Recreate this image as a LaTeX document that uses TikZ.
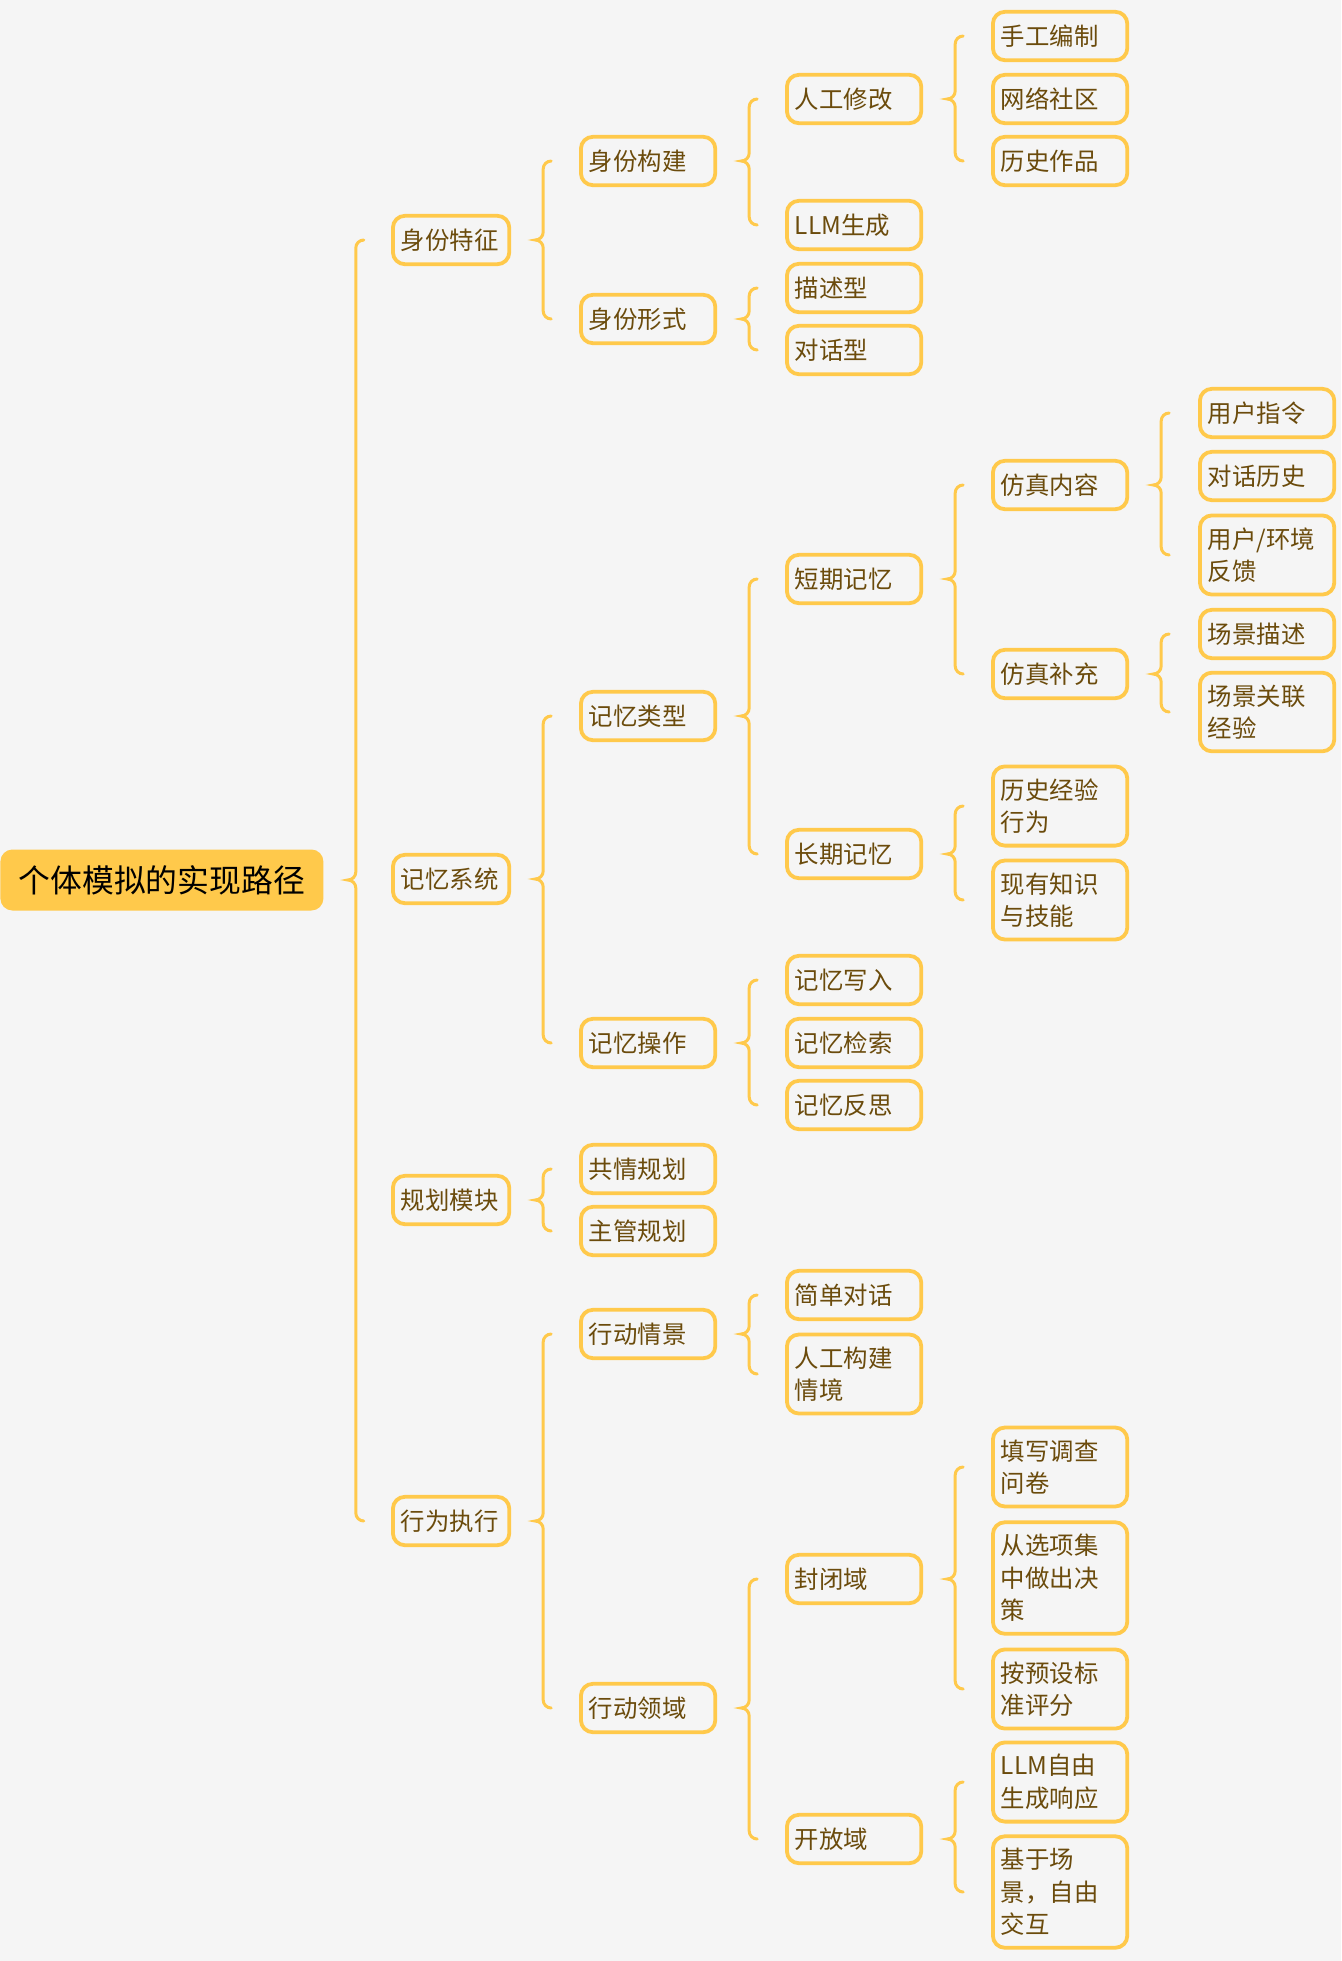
\documentclass[tikz,border=0pt]{standalone}
\usepackage{fontspec}
\setmainfont{Noto Sans CJK SC}
\usetikzlibrary{calc}
\definecolor{gold}{HTML}{FFC94B}
\definecolor{ink}{HTML}{6B4B0C}
\definecolor{bg}{HTML}{F5F5F5}
% brace from parent to its first and last child
\newcommand\brc[3]{%
  \draw[brace] let \p1=(#1.east), \p2=(#2.west), \p3=(#3.west) in
    (\x1+20pt,\y2) to[out=180,in=90] (\x1+16pt,\y2-4pt)
    -- (\x1+16pt,\y1+4pt) to[out=-90,in=0] (\x1+12pt,\y1)
    to[out=0,in=90] (\x1+16pt,\y1-4pt)
    -- (\x1+16pt,\y3+4pt) to[out=-90,in=180] (\x1+20pt,\y3);}

\begin{document}
\begin{tikzpicture}[x=0.5pt,y=-0.5pt,
    box/.style={draw=gold, line width=1.9pt, rounded corners=6pt, fill=bg, text=ink,
      anchor=west, align=left, inner xsep=4pt, inner ysep=6pt, minimum height=24.2pt,
      font=\fontsize{12.2}{16.25}\selectfont},
    boxa/.style={box, text width=50.2pt},
    boxb/.style={box, text width=59.2pt},
    brace/.style={draw=gold, line width=1.5pt, line cap=round}]
    \fill[bg] (0,0) rectangle (1341,1961);
    \useasboundingbox (0,0) rectangle (1341,1961);

    \node (root) [fill=gold, rounded corners=6pt, anchor=west, minimum width=161.5pt,
      minimum height=30.5pt, font=\fontsize{15.9}{18}\selectfont] at (0,880) {个体模拟的实现路径};

    % level 1
    \node (id)   [boxa] at (391,240)  {身份特征};
    \node (mem)  [boxa] at (391,879)  {记忆系统};
    \node (plan) [boxa] at (391,1200) {规划模块};
    \node (act)  [boxa] at (391,1521) {行为执行};

    % level 2
    \node (idb)   [boxb] at (579,161)  {身份构建};
    \node (idf)   [boxb] at (579,319)  {身份形式};
    \node (mtype) [boxb] at (579,716)  {记忆类型};
    \node (mop)   [boxb] at (579,1043) {记忆操作};
    \node (emp)   [boxb] at (579,1169) {共情规划};
    \node (subj)  [boxb] at (579,1231) {主管规划};
    \node (scene) [boxb] at (579,1334) {行动情景};
    \node (dom)   [boxb] at (579,1708) {行动领域};

    % level 3
    \node (manual) [boxb] at (785,99)   {人工修改};
    \node (llm)    [boxb] at (785,225)  {LLM生成};
    \node (desc)   [boxb] at (785,288)  {描述型};
    \node (dial)   [boxb] at (785,350)  {对话型};
    \node (stm)    [boxb] at (785,579)  {短期记忆};
    \node (ltm)    [boxb] at (785,854)  {长期记忆};
    \node (mw)     [boxb] at (785,980)  {记忆写入};
    \node (mr)     [boxb] at (785,1043) {记忆检索};
    \node (mref)   [boxb] at (785,1105) {记忆反思};
    \node (simple) [boxb] at (785,1295) {简单对话};
    \node (built)  [boxb] at (785,1374) {人工构建\\情境};
    \node (closed) [boxb] at (785,1579) {封闭域};
    \node (open)   [boxb] at (785,1839) {开放域};

    % level 4
    \node (hand)   [boxb] at (991,36)   {手工编制};
    \node (web)    [boxb] at (991,99)   {网络社区};
    \node (hist)   [boxb] at (991,161)  {历史作品};
    \node (simc)   [boxb] at (991,485)  {仿真内容};
    \node (sims)   [boxb] at (991,674)  {仿真补充};
    \node (past)   [boxb] at (991,806)  {历史经验\\行为};
    \node (know)   [boxb] at (991,900)  {现有知识\\与技能};
    \node (survey) [boxb] at (991,1467) {填写调查\\问卷};
    \node (choose) [boxb] at (991,1578) {从选项集\\中做出决\\策};
    \node (score)  [boxb] at (991,1689) {按预设标\\准评分};
    \node (free)   [boxb] at (991,1782) {LLM自由\\生成响应};
    \node (inter)  [boxb] at (991,1892) {基于场\\景，自由\\交互};

    % level 5
    \node (ins)  [boxb] at (1198,413) {用户指令};
    \node (hisd) [boxb] at (1198,476) {对话历史};
    \node (fb)   [boxb] at (1198,555) {用户/环境\\反馈};
    \node (sd)   [boxb] at (1198,634) {场景描述};
    \node (sexp) [boxb] at (1198,712) {场景关联\\经验};

    \brc{root}{id}{act}
    \brc{id}{idb}{idf}
    \brc{mem}{mtype}{mop}
    \brc{plan}{emp}{subj}
    \brc{act}{scene}{dom}
    \brc{idb}{manual}{llm}
    \brc{idf}{desc}{dial}
    \brc{mtype}{stm}{ltm}
    \brc{mop}{mw}{mref}
    \brc{scene}{simple}{built}
    \brc{dom}{closed}{open}
    \brc{manual}{hand}{hist}
    \brc{stm}{simc}{sims}
    \brc{ltm}{past}{know}
    \brc{closed}{survey}{score}
    \brc{open}{free}{inter}
    \brc{simc}{ins}{fb}
    \brc{sims}{sd}{sexp}
\end{tikzpicture}
\end{document}
